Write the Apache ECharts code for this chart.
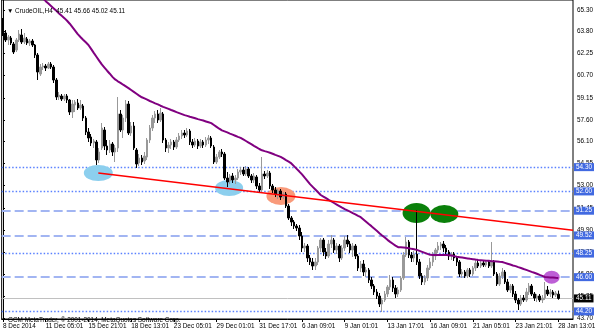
<!DOCTYPE html>
<html><head><meta charset="utf-8">
<script src="https://cdn.jsdelivr.net/npm/echarts@6/dist/echarts.min.js"></script>
<style>html,body{margin:0;padding:0;background:#fff}#c{width:600px;height:333px}</style>
</head><body><div id="c"></div>
<script>
// H4 candles: [open, close, low, high]
const ohlc = [
[64.60,63.62,63.48,64.74],[63.69,63.20,63.06,63.90],[63.20,63.41,62.85,63.55],[63.34,62.99,62.85,63.48],
[62.92,62.36,62.22,63.06],[62.50,63.20,62.36,63.34],[63.20,63.62,63.06,63.90],[63.55,63.06,62.92,63.97],
[63.06,63.34,62.92,63.69],[63.27,62.99,62.85,63.41],[62.99,63.13,62.78,63.27],[63.13,62.85,62.71,63.27],
[62.85,62.15,61.94,62.92],[62.15,60.96,60.40,62.29],[60.82,61.31,60.68,61.52],[61.31,61.38,61.10,61.59],
[61.38,61.24,61.03,61.52],[61.24,61.52,61.17,61.66],[61.52,61.31,61.17,61.66],[61.31,60.40,60.19,61.45],
[60.40,59.21,59.00,60.54],[59.21,59.35,59.00,59.56],[59.28,59.07,58.93,59.42],[59.07,59.28,58.93,59.42],
[59.28,59.00,58.79,59.42],[59.00,58.16,57.95,59.07],[58.16,58.72,57.74,59.00],[58.65,58.86,58.16,59.00],
[58.79,58.44,58.30,59.07],[58.44,58.65,58.30,59.00],[58.58,57.74,57.53,58.72],[57.74,56.76,56.55,57.88],
[56.76,56.34,56.06,57.04],[56.41,55.99,55.78,56.62],[55.99,56.13,55.64,56.27],[56.06,54.80,54.45,56.20],
[54.80,55.36,54.59,55.64],[55.64,57.04,55.50,57.39],[56.90,55.78,55.50,57.11],[55.78,55.50,55.15,56.20],
[55.50,55.92,55.29,56.20],[55.92,55.36,55.08,56.06],[55.36,55.64,54.66,55.85],[55.64,58.02,55.36,59.21],
[58.02,56.90,56.76,58.30],[56.90,57.74,56.34,57.95],[57.74,58.72,57.46,59.00],[58.72,56.69,56.55,58.93],
[56.69,57.18,56.48,57.46],[57.18,55.64,55.50,57.46],[55.50,54.52,54.24,55.64],[54.59,54.94,54.38,55.22],
[54.94,54.66,54.45,55.15],[54.73,55.08,54.52,55.36],[55.01,56.20,54.80,56.34],[56.20,57.04,55.99,57.25],
[57.04,57.74,56.83,57.95],[57.74,58.02,57.39,58.23],[58.02,57.60,57.39,58.30],[57.60,58.09,57.46,58.44],
[58.02,56.20,55.99,58.16],[56.20,55.64,55.36,56.34],[55.64,55.85,55.29,56.06],[55.85,56.06,55.57,56.27],
[56.06,55.71,55.50,56.20],[55.71,56.20,55.57,56.41],[56.20,56.48,56.06,56.69],[56.48,56.69,56.27,56.90],
[56.69,56.55,56.34,56.90],[56.55,56.83,56.41,57.04],[56.83,56.06,55.85,56.97],[56.06,55.85,55.64,56.27],
[55.85,56.13,55.71,56.34],[56.13,55.78,55.57,56.27],[55.78,56.06,55.64,56.27],[56.06,55.85,55.64,56.20],
[55.85,56.20,55.71,56.41],[56.20,56.34,55.92,56.55],[56.34,55.78,55.64,56.48],[55.71,54.66,54.52,55.85],
[54.66,55.01,54.52,55.22],[55.01,55.36,54.87,55.50],[55.36,55.22,55.01,55.57],[55.22,53.54,53.40,55.36],
[53.54,53.26,52.91,53.96],[53.33,53.68,53.12,53.82],[53.68,53.40,53.19,53.89],[53.40,53.54,53.12,53.75],
[53.54,53.96,53.40,54.17],[53.96,54.10,53.75,54.31],[54.10,53.82,53.68,54.31],[53.82,54.17,53.68,54.38],
[54.17,53.68,53.54,54.31],[53.68,53.40,53.19,53.82],[53.40,53.68,53.19,53.89],[53.61,52.98,52.77,53.75],
[52.98,52.70,52.49,53.19],[52.70,53.82,52.56,55.01],[53.82,53.68,53.47,54.03],[53.68,53.89,53.54,54.10],
[53.89,52.98,52.77,54.03],[52.98,52.70,52.49,53.12],[52.70,52.42,52.21,52.91],[52.42,52.63,52.07,52.77],
[52.63,52.21,52.00,52.77],[52.21,52.42,52.07,52.56],[52.42,51.58,51.44,52.56],[51.58,50.74,50.60,51.72],
[50.74,50.46,50.18,50.88],[50.46,50.18,49.97,50.60],[50.18,50.04,49.83,50.32],[50.04,49.48,49.20,50.25],
[49.48,48.64,48.36,49.76],[48.64,48.78,48.36,48.99],[48.78,47.94,47.66,48.92],[47.94,47.66,47.45,48.15],
[47.66,47.38,47.10,47.94],[47.38,47.66,47.10,47.94],[47.66,48.64,47.45,48.78],[48.64,49.20,48.36,49.34],
[49.20,48.36,48.08,49.34],[48.36,48.08,47.87,48.64],[48.08,48.92,47.94,49.20],[48.92,49.20,48.64,49.55],
[49.20,48.50,48.29,49.34],[48.50,48.78,48.22,48.99],[48.78,47.94,47.66,48.92],[47.94,48.64,47.80,48.85],
[48.64,49.20,48.43,49.48],[49.20,48.92,48.71,49.55],[48.92,48.50,48.29,49.13],[48.50,48.78,48.01,48.99],
[48.78,48.08,47.87,48.92],[48.08,47.24,47.03,48.22],[47.24,47.52,46.96,47.73],[47.52,46.96,46.68,47.80],
[46.96,47.10,46.61,47.31],[47.10,46.40,46.19,47.24],[46.40,45.98,45.77,46.61],[45.98,45.56,45.35,46.12],
[45.56,45.28,45.07,45.77],[45.28,44.72,44.51,45.49],[44.72,45.00,44.16,45.14],[45.00,45.42,44.86,45.63],
[45.42,45.91,45.21,46.05],[45.91,46.40,45.70,46.75],[46.40,45.84,45.56,46.61],[45.84,45.42,45.14,46.05],
[45.42,45.70,45.21,45.91],[45.70,46.54,45.56,46.68],[46.54,48.15,46.40,48.36],[48.15,49.06,48.01,49.41],
[49.06,48.15,47.94,49.20],[48.15,47.94,47.66,48.36],[47.94,48.22,47.66,48.43],[48.22,47.66,47.45,51.30],
[47.66,46.68,46.47,47.87],[46.68,46.26,46.05,46.89],[46.26,46.54,46.05,46.75],[46.54,47.24,46.33,47.45],
[47.24,47.66,47.10,47.94],[47.66,48.08,47.38,48.36],[48.08,48.50,47.80,48.64],[48.50,48.78,48.29,49.06],
[48.78,48.92,48.50,49.06],[48.92,48.64,48.36,49.13],[48.64,48.36,48.15,48.85],[48.36,48.08,47.80,48.50],
[48.08,48.22,47.80,48.36],[48.22,47.94,47.73,48.36],[47.94,47.66,47.38,48.08],[47.66,46.82,46.61,47.80],
[46.82,46.96,46.54,47.17],[46.96,46.68,46.54,47.10],[46.68,47.10,46.54,47.24],[47.10,46.82,46.61,47.24],
[46.82,47.24,46.68,47.38],[47.24,47.59,47.03,47.80],[47.59,47.38,47.24,47.80],[47.38,47.59,47.24,47.73],
[47.59,47.45,47.31,47.73],[47.45,47.66,47.31,47.80],[47.66,47.38,47.24,47.80],[47.38,47.66,47.24,49.06],
[47.66,46.82,46.68,47.80],[46.82,46.12,45.98,46.96],[46.12,46.68,45.98,46.89],[46.68,46.96,46.47,47.24],
[46.96,46.26,46.12,47.10],[46.26,45.70,45.56,46.47],[45.70,45.98,45.49,46.12],[45.98,45.42,45.21,46.12],
[45.42,45.00,44.79,45.63],[45.00,44.72,44.30,45.14],[44.72,45.14,44.58,45.35],[45.14,45.00,44.86,45.35],
[45.00,45.56,44.86,45.84],[45.56,45.98,45.35,46.19],[45.98,45.42,45.28,46.12],[45.42,45.14,44.93,45.56],
[45.14,45.28,44.86,45.42],[45.28,45.00,44.86,45.42],[45.00,45.14,44.79,45.35],[45.14,45.70,45.00,46.26],
[45.70,45.42,45.28,45.98],[45.42,45.56,45.21,45.77],[45.56,45.35,45.14,45.70],[45.35,45.49,45.21,45.63],
[45.41,45.11,45.02,45.66]
];
// moving average (purple), one value per bar; null where it is above the visible range start
const ma = [
null,null,null,null,null,null,null,null,null,null,null,null,null,null,
66.27,66.10,65.92,65.75,65.58,65.41,65.24,65.06,64.89,64.73,64.55,64.34,64.10,63.86,63.61,63.41,
63.22,63.04,62.85,62.58,62.30,62.03,61.76,61.49,61.27,61.05,60.84,60.62,60.44,60.31,60.20,60.07,
59.95,59.83,59.70,59.57,59.44,59.31,59.19,59.11,59.02,58.93,58.85,58.76,58.69,58.60,58.52,58.45,
58.38,58.30,58.23,58.15,58.08,58.01,57.94,57.89,57.83,57.78,57.72,57.66,57.61,57.56,57.50,57.44,
57.38,57.25,57.12,56.99,56.87,56.80,56.73,56.65,56.58,56.50,56.42,56.35,56.24,56.13,56.02,55.91,
55.79,55.68,55.57,55.48,55.42,55.37,55.31,55.24,55.16,55.09,55.02,54.91,54.79,54.68,54.56,54.37,
54.18,53.99,53.79,53.56,53.34,53.11,52.92,52.73,52.54,52.35,52.24,52.13,52.01,51.90,51.79,51.68,
51.57,51.46,51.36,51.27,51.18,51.08,50.99,50.89,50.80,50.64,50.48,50.32,50.17,50.01,49.85,49.68,
49.52,49.37,49.21,49.07,48.94,48.81,48.70,48.69,48.67,48.65,48.62,48.58,48.55,48.51,48.44,48.37,
48.30,48.23,48.16,48.15,48.15,48.15,48.15,48.15,48.15,48.14,48.11,48.07,48.03,48.00,47.97,47.94,
47.91,47.88,47.86,47.83,47.80,47.79,47.77,47.75,47.74,47.72,47.71,47.69,47.67,47.66,47.60,47.54,
47.48,47.42,47.37,47.30,47.24,47.17,47.11,47.04,46.97,46.91,46.84,46.76,46.69,46.61,46.60,46.58,
46.57,46.55,46.54
];
const slotCount = 214; // bar slots visible across the chart (incl. right shift)
const tickBars = [0,16,32,48,64,80,96,112,128,144,160,176,192,208];
const tickLabels = ['8 Dec 2014','11 Dec 05:01','15 Dec 21:01','18 Dec 13:01','23 Dec 05:01','29 Dec 01:01','31 Dec 17:01','6 Jan 09:01','9 Jan 01:01','13 Jan 17:01','16 Jan 09:01','21 Jan 05:01','23 Jan 21:01','28 Jan 13:01'];
const yTicks = [43.70,45.25,46.80,48.35,49.90,51.45,53.00,54.55,56.10,57.60,59.15,60.70,62.25,63.80,65.30];
const levelsDotted = [54.30,52.60,48.25,44.20];
const levelsDashed = [51.25,49.52,46.60];
const lastPrice = 45.11;
const ellipseBars = [35.7,84.7,104.1,154.9,165.3,205.5];
const ellipsePrices = [53.89,52.84,52.28,51.09,51.02,46.60];
const trendBars = [35.7,213.5];
const trendPrices = [53.89,49.88];

const ellipseStyle = [
  {size:[29,16], color:'#8ccfee'},
  {size:[28,16], color:'#8ccfee'},
  {size:[29,18], color:'#f99a7a'},
  {size:[28,20], color:'#0a800a'},
  {size:[28,18], color:'#0a800a'},
  {size:[16,13], color:'#bd5fd6'}
];

const categories = Array.from({length: slotCount}, (_, i) => String(i));
const labelAt = {};
tickBars.forEach((b, k) => { labelAt[b] = tickLabels[k]; });
const tickSet = new Set(tickBars);
const F = '"Liberation Sans", Arial, sans-serif';
const FS = 6.4;
const last = ohlc[ohlc.length - 1];
const fmt = v => v.toFixed(2);

const boxLabel = (bg) => ({
  show: true, position: 'end', distance: 1, formatter: p => fmt(p.value),
  backgroundColor: bg, color: '#fff', fontSize: FS, fontFamily: F, lineHeight: 7, padding: [1, 2, 0, 2]
});

const levelData = []
  .concat(levelsDotted.map(v => ({yAxis: v, lineStyle: {type: [1.5, 2], color: '#5a80ff', width: 1.3, opacity: 1}, label: boxLabel('#4169e1')})))
  .concat(levelsDashed.map(v => ({yAxis: v, lineStyle: {type: [9, 4], color: '#a2b5f2', width: 2}, label: boxLabel('#4169e1')})))
  .concat([{yAxis: lastPrice, lineStyle: {type: 'solid', color: '#c0c0c0', width: 1}, label: boxLabel('#000')}]);

const chart = echarts.init(document.getElementById('c'), null, {renderer: 'canvas'});
chart.setOption({
  animation: false,
  title: [
    {text: '▼ CrudeOIL,H4  ' + [last[0], last[3], last[2], last[1]].map(fmt).join(' '), left: 2, top: 3,
     textStyle: {fontSize: FS, fontWeight: 'normal', color: '#000', fontFamily: F}},
    {text: 'GCM MetaTrader, © 2001-2014, MetaQuotes Software Corp.', left: 3, top: 312,
     textStyle: {fontSize: FS, fontWeight: 'normal', color: '#000', fontFamily: F}}
  ],
  grid: {left: 1, right: 27, top: 0, bottom: 14, show: true, borderColor: '#000', borderWidth: 1, backgroundColor: '#fff'},
  xAxis: [
    {type: 'category', data: categories, boundaryGap: true,
     axisLine: {show: true, lineStyle: {color: '#000'}},
     axisTick: {show: true, interval: i => tickSet.has(i), alignWithLabel: true, length: 3, lineStyle: {color: '#000'}},
     axisLabel: {interval: i => tickSet.has(i), formatter: (v, i) => labelAt[i] || '', align: 'left',
                 fontSize: FS, fontFamily: F, color: '#000', margin: 4},
     splitLine: {show: false}},
    {type: 'value', min: -0.5, max: slotCount - 0.5, show: false}
  ],
  yAxis: {type: 'value', position: 'right', min: 43.67, max: 66.0,
    axisLine: {show: true, lineStyle: {color: '#000'}},
    axisTick: {show: true, length: 2, customValues: yTicks, lineStyle: {color: '#000'}},
    axisLabel: {customValues: yTicks, formatter: v => fmt(v), fontSize: FS, fontFamily: F, color: '#000', margin: 4},
    splitLine: {show: false}},
  series: [
    {type: 'scatter', xAxisIndex: 1, z: 2, silent: true,
     data: ellipseBars.map((b, k) => ({value: [b, ellipsePrices[k]], symbolSize: ellipseStyle[k].size,
        itemStyle: {color: ellipseStyle[k].color, opacity: 1}}))},
    {type: 'candlestick', z: 3, barWidth: 2, data: ohlc,
     itemStyle: {color: '#999999', color0: '#000', borderColor: '#999999', borderColor0: '#000', borderWidth: 1},
     markLine: {z: 1, silent: true, symbol: ['none', 'none'], data: levelData}},
    {type: 'line', z: 4, data: ma, showSymbol: false, silent: true,
     lineStyle: {color: '#800080', width: 2}},
    {type: 'line', xAxisIndex: 1, z: 5, showSymbol: false, silent: true,
     data: trendBars.map((b, k) => [b, trendPrices[k]]),
     lineStyle: {color: '#ff0000', width: 1.5}}
  ]
});
</script></body></html>
